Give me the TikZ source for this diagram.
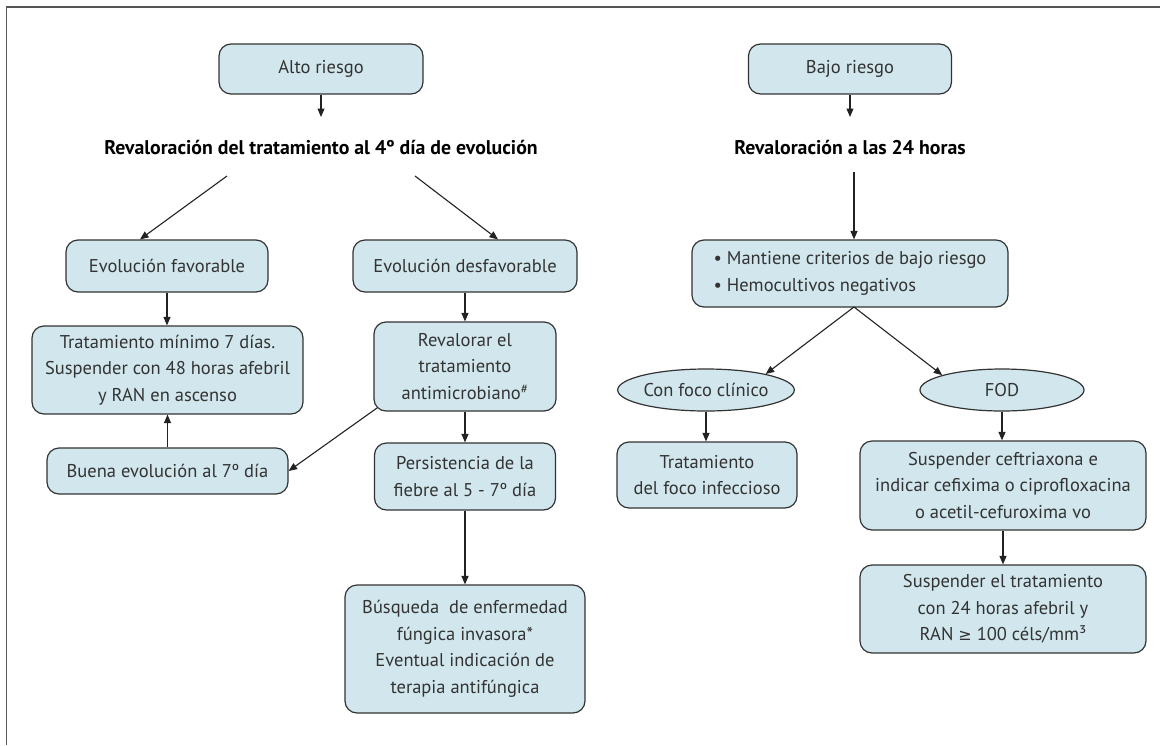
\documentclass[tikz,border=0pt]{standalone}
\usepackage{fontspec}
\setmainfont{PT Sans}
\newfontfamily\symf{DejaVu Sans}
\usetikzlibrary{arrows.meta,shapes.geometric,calc}
\definecolor{boxfill}{HTML}{D1E7ED}
\definecolor{boxline}{HTML}{333333}
\definecolor{txt}{HTML}{333333}
\definecolor{framec}{HTML}{555555}
\definecolor{arrc}{HTML}{222222}
\begin{document}
\begin{tikzpicture}[x=1pt,y=-1pt,
  box/.style={draw=boxline, fill=boxfill, line width=1.2pt, rounded corners=12pt, align=center, text=txt, font=\fontsize{18.5}{26.5}\selectfont, inner sep=0pt},
  oval/.style={ellipse, draw=boxline, fill=boxfill, line width=1.2pt, text=txt, font=\fontsize{18.5}{26.5}\selectfont, inner sep=0pt},
  ttl/.style={font=\fontsize{19.8}{22}\selectfont\bfseries, text=black, inner sep=0pt},
  arr/.style={draw=arrc, line width=1.1pt, -{Triangle[length=8.5pt,width=7pt]}},
]
\useasboundingbox (0,0) rectangle (1160,745);
\draw[framec, line width=1.8pt] (6.5,745) -- (6.5,7) -- (1160,7);

% left column
\node[box, minimum width=204pt, minimum height=50pt] (alto) at (321,69) {Alto riesgo};
\node[ttl, anchor=base] (t1) at (321,154) {Revaloración del tratamiento al 4º día de evolución};
\node[box, minimum width=202pt, minimum height=52pt] (fav) at (167,266) {Evolución favorable};
\node[box, minimum width=224pt, minimum height=52pt] (desf) at (465,266) {Evolución desfavorable};
\node[box, minimum width=271pt, minimum height=88pt] (trat) at (167.5,370) {Tratamiento mínimo 7 días.\\Suspender con 48 horas afebril\\y RAN en ascenso};
\node[box, minimum width=241pt, minimum height=46pt] (buena) at (167.5,471) {Buena evolución al 7º día};
\node[box, minimum width=182pt, minimum height=89pt] (reval) at (465,366.5) {Revalorar el\\tratamiento\\antimicrobiano\textsuperscript{\#}};
\node[box, minimum width=181pt, minimum height=67pt] (pers) at (465,476.5) {Persistencia de la\\fiebre al 5 - 7º día};
\node[box, minimum width=240pt, minimum height=128pt] (busq) at (465,649) {Búsqueda\ \ de enfermedad\\fúngica invasora*\\Eventual indicación de\\terapia antifúngica};

% right column
\node[box, minimum width=203pt, minimum height=50pt] (bajo) at (850,69) {Bajo riesgo};
\node[ttl, anchor=base] (t2) at (850,154) {Revaloración a las 24 horas};
\node[box, minimum width=316pt, minimum height=67pt, align=left] (mant) at (850,273.5) {•\ Mantiene criterios de bajo riesgo\\•\ Hemocultivos negativos};
\node[oval, minimum width=166pt, minimum height=42pt] (foco) at (706,390) {Con foco clínico};
\node[oval, minimum width=164pt, minimum height=42pt] (fod) at (1002,390) {FOD};
\node[box, minimum width=180pt, minimum height=66pt] (tfoco) at (707,475) {Tratamiento\\del foco infeccioso};
\node[box, minimum width=286pt, minimum height=89pt] (susp1) at (1003,485.5) {Suspender ceftriaxona e\\indicar cefixima o ciprofloxacina\\o acetil-cefuroxima vo};
\node[box, minimum width=286pt, minimum height=88pt] (susp2) at (1003,609) {Suspender el tratamiento\\con 24 horas afebril y\\RAN {\symf\fontsize{16}{20}\selectfont ≥} 100 céls/mm³};

% coordinates
\coordinate (a1) at (321,117);
\coordinate (b1) at (850,117);
\coordinate (t1L) at (227,176);
\coordinate (t1R) at (415,176);
\coordinate (t2B) at (854,172);
\coordinate (mS) at (854,307);
\coordinate (rvc) at (377,408);

% connectors
\draw[arr] (alto.south) -- (a1);
\draw[arr] (bajo.south) -- (b1);
\draw[arr] (t1L) -- ($(fav.north)+(-27,0)$);
\draw[arr] (t1R) -- ($(desf.north)+(33,0)$);
\draw[arr] (fav.south) -- (fav.south |- trat.north);
\draw[arr] (buena.north) -- (buena.north |- trat.south);
\draw[arr] (desf.south) -- (desf.south |- reval.north);
\draw[arr] (rvc) -- (buena.east);
\draw[arr] (reval.south) -- (pers.north);
\draw[arr] (pers.south) -- (busq.north);
\draw[arr] (t2B) -- (t2B |- mant.north);
\draw[arr] (mS) -- (foco.15);
\draw[arr] (mS) -- (fod.166);
\draw[arr] (foco.south) -- (foco.south |- tfoco.north);
\draw[arr] (fod.south) -- (fod.south |- susp1.north);
\draw[arr] (susp1.south) -- (susp2.north);
\end{tikzpicture}
\end{document}
